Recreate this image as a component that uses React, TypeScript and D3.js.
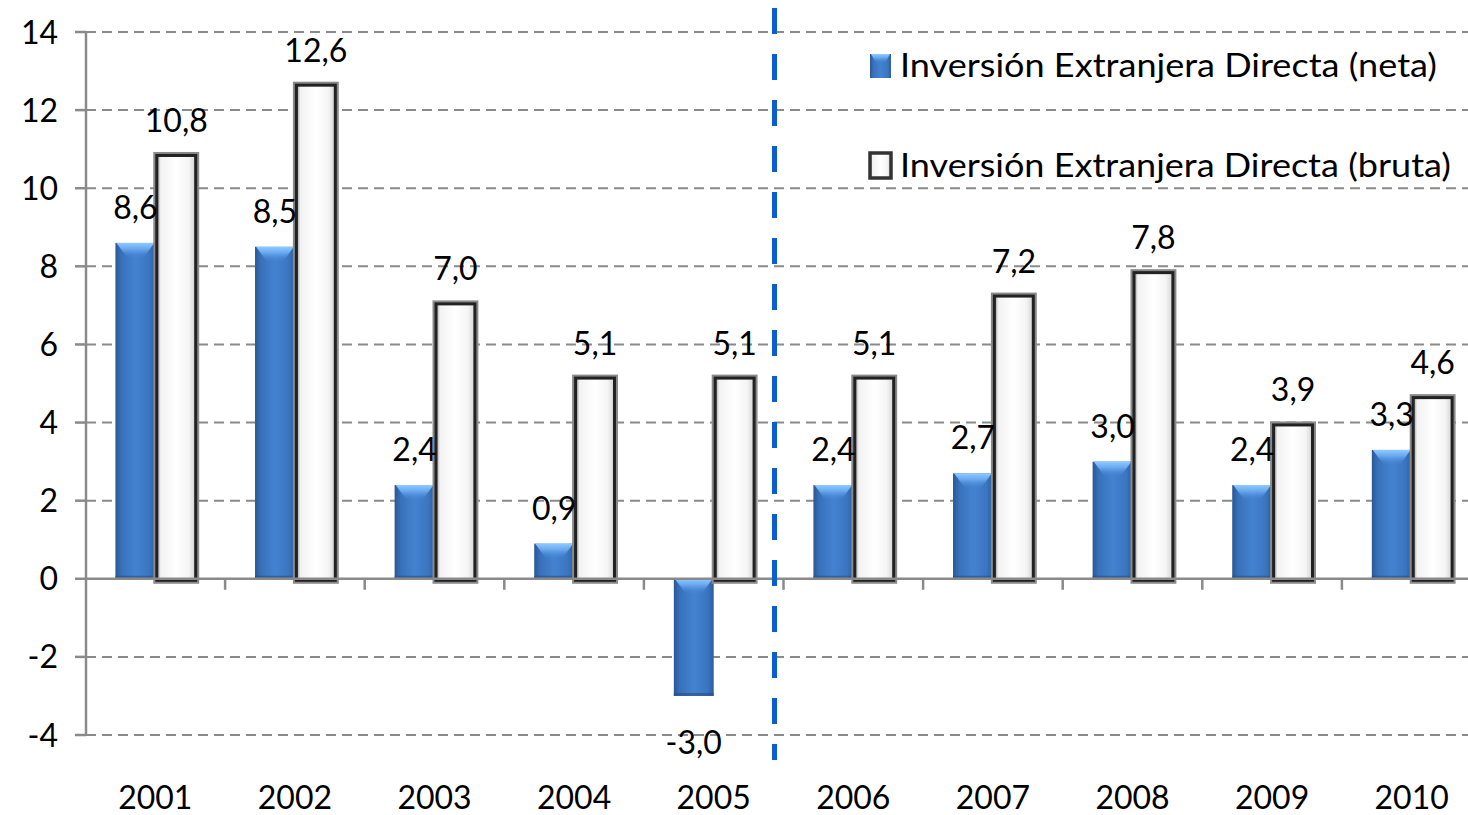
import React from "react";
import * as d3 from "d3";

const years = ["2001", "2002", "2003", "2004", "2005", "2006", "2007", "2008", "2009", "2010"];
const neta = [8.6, 8.5, 2.4, 0.9, -3.0, 2.4, 2.7, 3.0, 2.4, 3.3];
const bruta = [10.8, 12.6, 7.0, 5.1, 5.1, 5.1, 7.2, 7.8, 3.9, 4.6];
const yTicks = [-4, -2, 0, 2, 4, 6, 8, 10, 12, 14];
const seriesNames = ["Inversión Extranjera Directa (neta)", "Inversión Extranjera Directa (bruta)"];

const WIDTH = 1468;
const HEIGHT = 815;
const FONT = "Lato, 'Open Sans', sans-serif";

const fmt = (v: number) => v.toFixed(1).replace(".", ",");

export default function App() {
  const x = d3.scaleBand<string>().domain(years).range([85.5, 1481.5]).padding(0);
  const inner = d3
    .scaleBand<string>()
    .domain(["neta", "bruta"])
    .range([0, x.bandwidth()])
    .paddingInner(0)
    .paddingOuter(0.75);
  const y = d3.scaleLinear().domain([-4, 14]).range([735, 32]);
  const bw = inner.bandwidth();
  const axisX = 86;
  const sepX = (x("2006") ?? 0) - 9;

  return (
    <svg
      width={WIDTH}
      height={HEIGHT}
      style={{ position: "absolute", left: 0, top: 0, background: "#fff" }}
      fontFamily={FONT}
    >
      <defs>
        <linearGradient id="blueH" x1="0" x2="1" y1="0" y2="0">
          <stop offset="0" stopColor="#2a5893" />
          <stop offset="0.15" stopColor="#3771ba" />
          <stop offset="0.5" stopColor="#4482d0" />
          <stop offset="0.85" stopColor="#3a75c0" />
          <stop offset="1" stopColor="#2c5d9c" />
        </linearGradient>
        <linearGradient id="blueTop" x1="0" x2="0" y1="0" y2="1">
          <stop offset="0" stopColor="#8fcbff" stopOpacity="1" />
          <stop offset="0.4" stopColor="#6eaef5" stopOpacity="0.9" />
          <stop offset="1" stopColor="#4a88d6" stopOpacity="0" />
        </linearGradient>
        <linearGradient id="whiteH" x1="0" x2="1" y1="0" y2="0">
          <stop offset="0" stopColor="#8c8c8c" />
          <stop offset="0.1" stopColor="#f2f2f2" />
          <stop offset="0.5" stopColor="#ffffff" />
          <stop offset="0.82" stopColor="#f5f5f5" />
          <stop offset="1" stopColor="#d2d2d2" />
        </linearGradient>
      </defs>

      {/* grid */}
      {yTicks
        .filter((t) => t !== 0)
        .map((t) => (
          <line
            key={"g" + t}
            x1={axisX}
            x2={WIDTH}
            y1={y(t)}
            y2={y(t)}
            stroke="#8a8a8a"
            strokeWidth={2}
            strokeDasharray="10,6"
          />
        ))}

      {/* y axis */}
      <line x1={axisX} x2={axisX} y1={y(14)} y2={y(-4)} stroke="#8a8a8a" strokeWidth={2.5} />
      {yTicks.map((t) => (
        <g key={"t" + t}>
          <line x1={75} x2={axisX} y1={y(t)} y2={y(t)} stroke="#8a8a8a" strokeWidth={2.5} />
          <text x={58} y={y(t)} dy="0.36em" textAnchor="end" fontSize={32} fill="#000">
            {t}
          </text>
        </g>
      ))}

      {/* bars */}
      {years.map((yr, i) => {
        const x0 = x(yr) ?? 0;
        const bx = x0 + (inner("neta") ?? 0);
        const wx = x0 + (inner("bruta") ?? 0);
        const v = neta[i];
        const top = Math.min(y(v), y(0));
        const h = Math.abs(y(v) - y(0));
        const bTop = y(bruta[i]);
        const bH = y(0) - bTop;
        const bev = Math.min(15, h);
        return (
          <g key={yr}>
            <rect x={bx} y={top} width={bw} height={h} fill="url(#blueH)" />
            <polygon
              points={`${bx + 1},${top} ${bx + bw - 1},${top} ${bx + bw - 12},${top + bev} ${bx + 12},${top + bev}`}
              fill="url(#blueTop)"
            />
            <rect x={bx} y={top + h - 3} width={bw} height={3} fill="#244e82" opacity={0.6} />
            <rect
              x={wx + 1.5}
              y={bTop - 1.5}
              width={bw - 1}
              height={bH + 3}
              fill="none"
              stroke="#8a8a8a"
              strokeWidth={7}
            />
            <rect
              x={wx + 1.5}
              y={bTop - 1.5}
              width={bw - 1}
              height={bH + 3}
              fill="url(#whiteH)"
              stroke="#222"
              strokeWidth={3}
            />
            <text
              x={bx + bw / 2}
              y={v >= 0 ? y(v) - 24 : y(v) + 58}
              textAnchor="middle"
              fontSize={32}
              fill="#000"
            >
              {fmt(v)}
            </text>
            <text x={wx + bw / 2 + 1} y={bTop - 25} textAnchor="middle" fontSize={32} fill="#000">
              {fmt(bruta[i])}
            </text>
          </g>
        );
      })}

      {/* x axis */}
      <line x1={axisX} x2={WIDTH} y1={y(0)} y2={y(0)} stroke="#8a8a8a" strokeWidth={2.5} />
      {years.slice(1).map((yr) => (
        <line
          key={"xt" + yr}
          x1={x(yr)}
          x2={x(yr)}
          y1={y(0)}
          y2={y(0) + 11}
          stroke="#8a8a8a"
          strokeWidth={2.5}
        />
      ))}
      {years.map((yr) => (
        <text
          key={"xl" + yr}
          x={(x(yr) ?? 0) + x.bandwidth() / 2}
          y={809}
          textAnchor="middle"
          fontSize={32}
          fill="#000"
        >
          {yr}
        </text>
      ))}

      {/* separator */}
      <line
        x1={sepX}
        x2={sepX}
        y1={8}
        y2={760}
        stroke="#0b5ed0"
        strokeWidth={5}
        strokeDasharray="26,20"
      />

      {/* legend */}
      <g>
        <rect x={870} y={54} width={21} height={24} fill="url(#blueH)" />
        <polygon points="871,54 890,54 885,63 876,63" fill="url(#blueTop)" />
        <text x={900} y={77} fontSize={32} fill="#000" textLength={537} lengthAdjust="spacingAndGlyphs">
          {seriesNames[0]}
        </text>
        <rect x={870} y={153} width={21} height={25} fill="url(#whiteH)" stroke="#333" strokeWidth={3.5} />
        <text x={900} y={177} fontSize={32} fill="#000" textLength={551} lengthAdjust="spacingAndGlyphs">
          {seriesNames[1]}
        </text>
      </g>
    </svg>
  );
}
